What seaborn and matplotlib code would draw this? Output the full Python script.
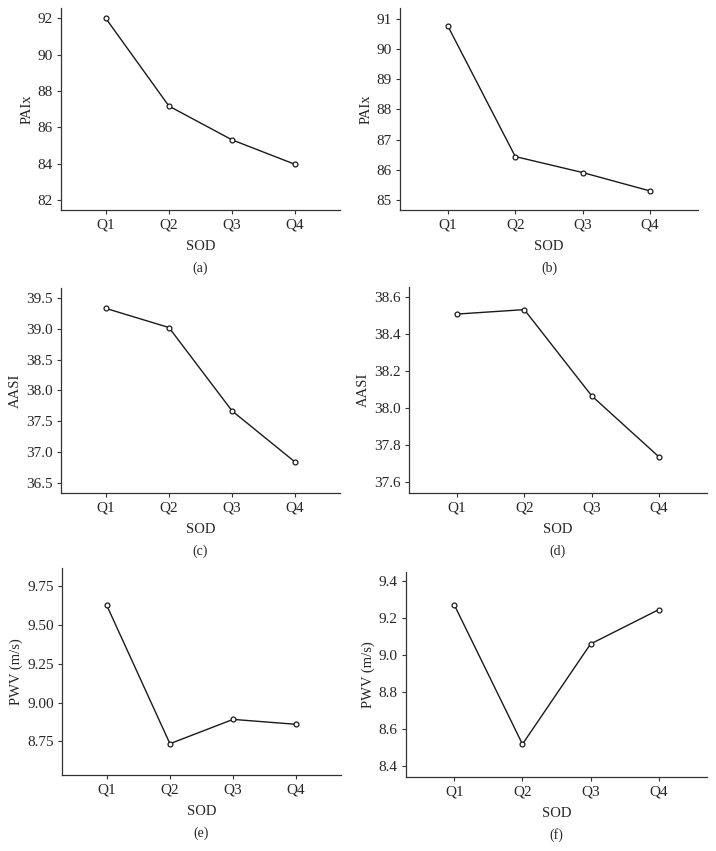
import matplotlib
matplotlib.use("Agg")
import matplotlib.pyplot as plt
import seaborn as sns
import pandas as pd

quartiles = ["Q1", "Q2", "Q3", "Q4"]

paix_a = [92.0, 87.17, 85.31, 83.96]
paix_b = [90.76, 86.44, 85.91, 85.30]
aasi_c = [39.33, 39.02, 37.67, 36.84]
aasi_d = [38.508, 38.532, 38.067, 37.737]
pwv_e = [9.627, 8.735, 8.892, 8.860]
pwv_f = [9.27, 8.52, 9.06, 9.245]

sns.set_style("ticks")
plt.rcParams["font.family"] = ["Liberation Serif", "DejaVu Serif"]
plt.rcParams["font.size"] = 9

W, H = 716, 851
fig = plt.figure(figsize=(W / 100, H / 100), dpi=100)

# (values, ylabel, yticks, ylim, tick format, box in pixels: left, right, top, bottom, letter)
panels = [
    (paix_a, "PAIx", [82, 84, 86, 88, 90, 92], (81.45, 92.57), "{:.0f}", (61, 340, 8, 210), "(a)"),
    (paix_b, "PAIx", [85, 86, 87, 88, 89, 90, 91], (84.67, 91.36), "{:.0f}", (400, 698, 8, 210), "(b)"),
    (aasi_c, "AASI", [36.5, 37.0, 37.5, 38.0, 38.5, 39.0, 39.5], (36.34, 39.66), "{:.1f}", (61, 340, 288, 493), "(c)"),
    (aasi_d, "AASI", [37.6, 37.8, 38.0, 38.2, 38.4, 38.6], (37.543, 38.654), "{:.1f}", (409, 707, 287, 493), "(d)"),
    (pwv_e, "PWV (m/s)", [8.75, 9.00, 9.25, 9.50, 9.75], (8.533, 9.869), "{:.2f}", (62, 341, 568, 775), "(e)"),
    (pwv_f, "PWV (m/s)", [8.4, 8.6, 8.8, 9.0, 9.2, 9.4], (8.343, 9.448), "{:.1f}", (406, 707, 572, 777), "(f)"),
]

for vals, ylab, yticks, ylim, fmt, box, letter in panels:
    l, r, t, b = box
    ax = fig.add_axes([l / W, 1 - b / H, (r - l) / W, (b - t) / H])
    df = pd.DataFrame({"SOD": quartiles, "val": vals})
    sns.lineplot(data=df, x="SOD", y="val", ax=ax, color="#1a1a1a", linewidth=1.0,
                 marker="o", markersize=3.5, markerfacecolor="white",
                 markeredgecolor="#1a1a1a", markeredgewidth=0.9)
    ax.set_xlim(-0.71, 3.71)
    ax.set_ylim(*ylim)
    ax.set_yticks(yticks)
    ax.set_yticklabels([fmt.format(v) for v in yticks])
    ax.set_xlabel("SOD", fontsize=10.5, labelpad=6.5)
    ax.set_ylabel(ylab, fontsize=10.5, labelpad=3)
    ax.tick_params(axis="both", length=3, width=0.8, color="#333333", labelsize=11, pad=3)
    sns.despine(ax=ax)
    for s in ("left", "bottom"):
        ax.spines[s].set_linewidth(0.9)
        ax.spines[s].set_color("#333333")
    fig.text((l + r) / 2 / W, 1 - (b + 58) / H, letter, ha="center", va="center", fontsize=10)

fig.savefig("out.png", dpi=100, facecolor="white")
